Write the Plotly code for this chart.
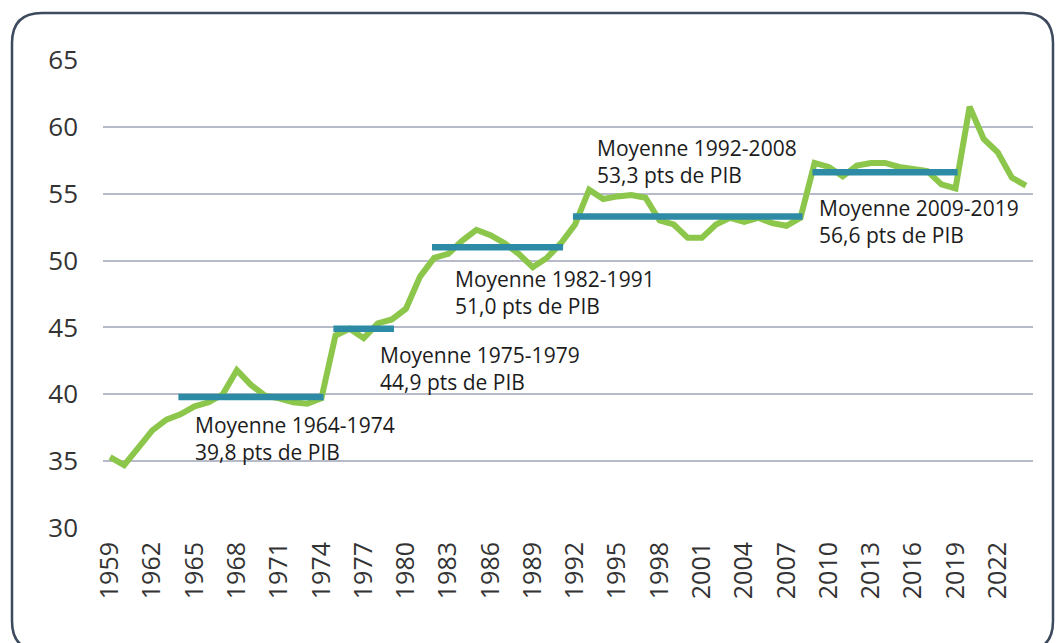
import plotly.graph_objects as go

years = list(range(1959, 2025))
depenses = [
    35.3, 34.7, 36.0, 37.3, 38.1, 38.5, 39.1, 39.4, 40.0, 41.8,
    40.7, 39.9, 39.7, 39.4, 39.3, 39.7, 44.4, 44.9, 44.2, 45.3,
    45.6, 46.4, 48.8, 50.2, 50.5, 51.5, 52.3, 51.9, 51.3, 50.5,
    49.5, 50.2, 51.3, 52.7, 55.3, 54.6, 54.8, 54.9, 54.7, 53.0,
    52.7, 51.7, 51.7, 52.7, 53.2, 52.9, 53.2, 52.8, 52.6, 53.2,
    57.3, 57.0, 56.3, 57.1, 57.3, 57.3, 57.0, 56.9, 56.7, 55.7,
    55.4, 61.5, 59.1, 58.1, 56.2, 55.6,
]

period_start = [1964, 1975, 1982, 1992, 2009]
period_end = [1974, 1979, 1991, 2008, 2019]
period_mean = [39.8, 44.9, 51.0, 53.3, 56.6]
period_label = [
    "Moyenne 1964-1974<br>39,8 pts de PIB",
    "Moyenne 1975-1979<br>44,9 pts de PIB",
    "Moyenne 1982-1991<br>51,0 pts de PIB",
    "Moyenne 1992-2008<br>53,3 pts de PIB",
    "Moyenne 2009-2019<br>56,6 pts de PIB",
]
label_x = [1964.9, 1978.0, 1983.35, 1993.4, 2009.2]
label_y = [36.7, 41.95, 47.6, 57.4, 52.95]

tick_years = list(range(1959, 2025, 3))
y_ticks = [30, 35, 40, 45, 50, 55, 60, 65]

GREEN = "#8cc64b"
BLUE = "#2e8ba6"

fig = go.Figure()
fig.add_trace(go.Scatter(
    x=years, y=depenses, mode="lines",
    line=dict(color=GREEN, width=6), hoverinfo="skip", showlegend=False,
))
for s, e, m in zip(period_start, period_end, period_mean):
    fig.add_trace(go.Scatter(
        x=[s - 0.15, e + 0.15], y=[m, m], mode="lines",
        line=dict(color=BLUE, width=6.5), hoverinfo="skip", showlegend=False,
    ))

for t, x, y in zip(period_label, label_x, label_y):
    fig.add_annotation(
        x=x, y=y, xref="x", yref="y", text=t, showarrow=False,
        xanchor="left", yanchor="middle", align="left",
        font=dict(family="Open Sans", size=21, color="#1c1c1c"),
    )

# rounded frame (paper coordinates computed from pixel geometry)
W_PLOT, H_PLOT, L, T = 930.0, 468.0, 103.0, 60.0
def px(x):
    return (x - L) / W_PLOT
def py(y):
    return (T + H_PLOT - y) / H_PLOT
left, right, top, bottom, r = 12, 1053, 13, 651, 30
path = (
    f"M {px(left + r)},{py(top)} L {px(right - r)},{py(top)} "
    f"Q {px(right)},{py(top)} {px(right)},{py(top + r)} "
    f"L {px(right)},{py(bottom - r)} "
    f"Q {px(right)},{py(bottom)} {px(right - r)},{py(bottom)} "
    f"L {px(left + r)},{py(bottom)} "
    f"Q {px(left)},{py(bottom)} {px(left)},{py(bottom - r)} "
    f"L {px(left)},{py(top + r)} "
    f"Q {px(left)},{py(top)} {px(left + r)},{py(top)} Z"
)
fig.add_shape(type="path", path=path, xref="paper", yref="paper",
              line=dict(color="#3d4a5d", width=2.5), layer="above")

fig.update_layout(
    width=1057, height=643,
    margin=dict(l=103, r=24, t=60, b=115),
    paper_bgcolor="white", plot_bgcolor="white",
    font=dict(family="Open Sans", color="#2b2b2b"),
    xaxis=dict(
        range=[1958.5, 2024.5], tickmode="array", tickvals=tick_years,
        ticktext=[str(v) for v in tick_years], tickangle=-90,
        showgrid=False, zeroline=False, showline=False, ticks="",
        tickfont=dict(size=25, color="#333333"), ticklabelstandoff=8,
    ),
    yaxis=dict(
        range=[30, 65], tickmode="array", tickvals=y_ticks,
        showgrid=True, gridcolor="#b7bbc9", gridwidth=1.5,
        zeroline=False, showline=False, ticks="",
        tickfont=dict(size=26, color="#333333"), ticklabelstandoff=24,
    ),
)

fig.write_html(
    "out.html",
    config={"displayModeBar": False},
    post_script="document.body.style.margin='0';document.body.style.overflow='hidden';",
)
